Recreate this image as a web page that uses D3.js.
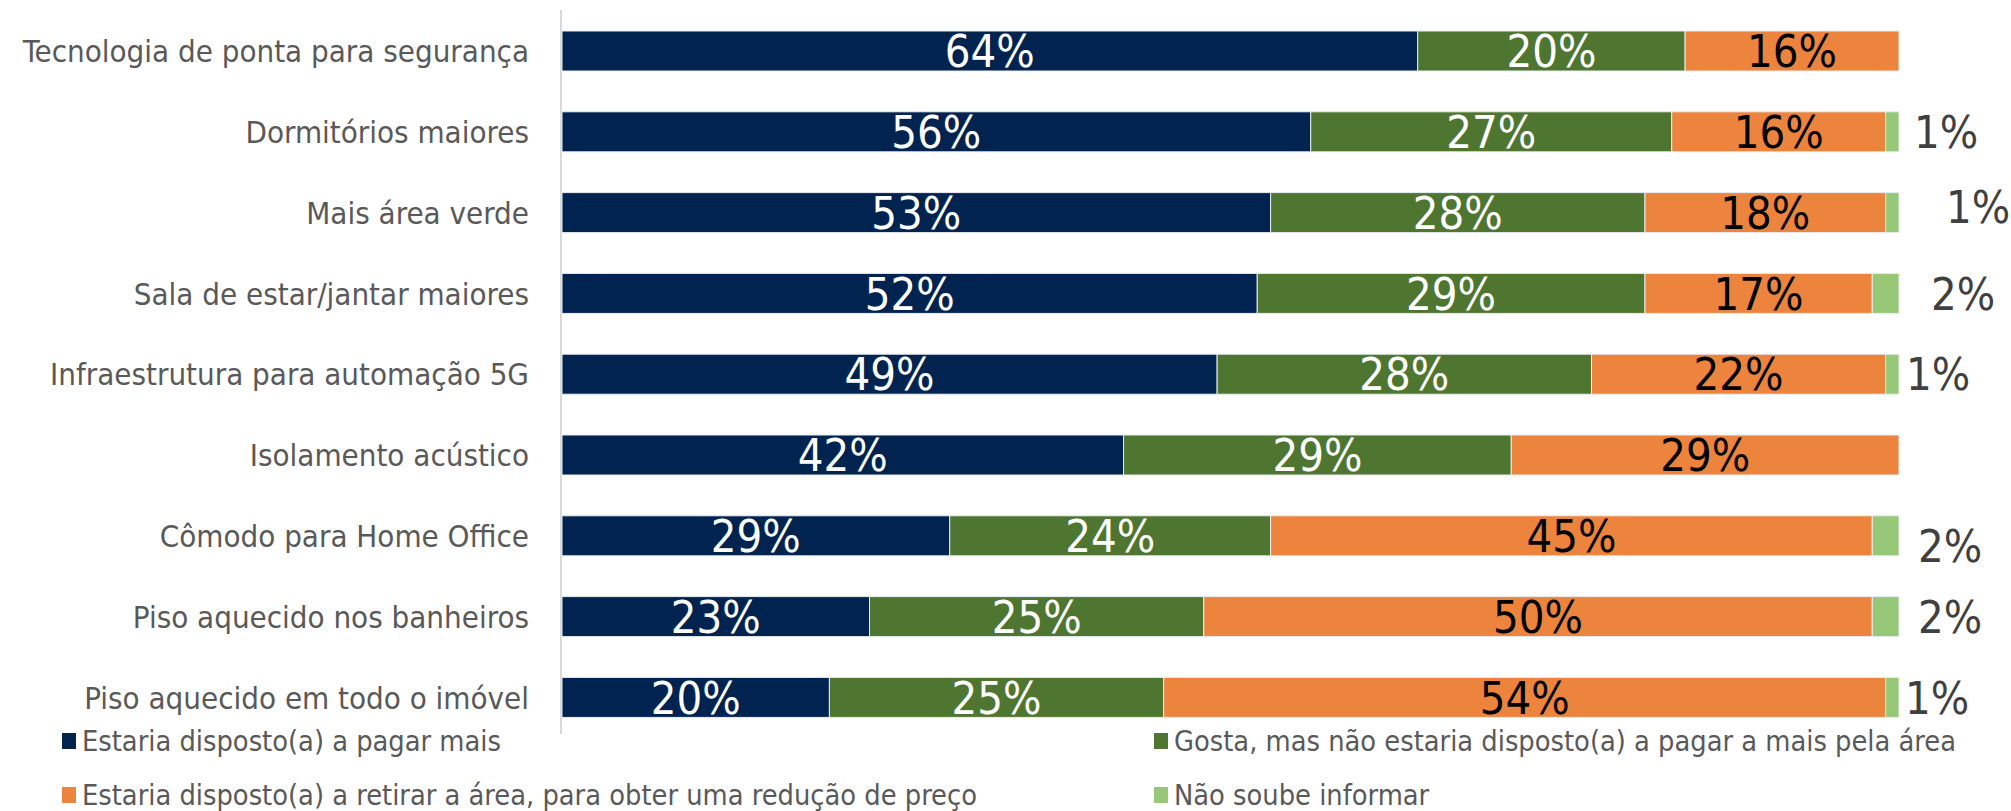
<!DOCTYPE html>
<html>
<head>
<meta charset="utf-8">
<script src="https://cdn.jsdelivr.net/npm/d3@7"></script>
<style>
  body { margin: 0; background: #fff; }
  text { font-family: "DejaVu Sans Condensed", "DejaVu Sans", sans-serif; font-stretch: condensed; }
</style>
</head>
<body>
<div id="chart"></div>
<script>
var categories = [
  "Tecnologia de ponta para segurança",
  "Dormitórios maiores",
  "Mais área verde",
  "Sala de estar/jantar maiores",
  "Infraestrutura para automação 5G",
  "Isolamento acústico",
  "Cômodo para Home Office",
  "Piso aquecido nos banheiros",
  "Piso aquecido em todo o imóvel"
];
var seriesNames = [
  "Estaria disposto(a) a pagar mais",
  "Gosta, mas não estaria disposto(a) a pagar a mais pela área",
  "Estaria disposto(a) a retirar a área, para obter uma redução de preço",
  "Não soube informar"
];
var pagarMais = [64, 56, 53, 52, 49, 42, 29, 23, 20];
var gostaNaoPaga = [20, 27, 28, 29, 28, 29, 24, 25, 25];
var retirarArea = [16, 16, 18, 17, 22, 29, 45, 50, 54];
var naoSoube = [0, 1, 1, 2, 1, 0, 2, 2, 1];

var colors = ["#00234f", "#4e7630", "#ec843e", "#96c878"];
var labelColors = ["#fff", "#fff", "#000", "#404040"];
// hand-placed offsets of the small outside labels (dx, dy)
var outsideOffset = [[0,0],[12,0],[44,-6],[29,0],[4,0],[0,0],[16,10],[16,0],[3,0]];

var width = 2011, height = 811;
var svg = d3.select("#chart").append("svg")
  .attr("width", width)
  .attr("height", height);

var x = d3.scaleLinear()
  .domain([0, 100])
  .range([562, 1899]);
var y = d3.scaleBand()
  .domain(categories)
  .range([10.6, 737.8])
  .paddingInner(0.505)
  .paddingOuter(0.2525);

var rows = categories.map(function (c, i) {
  return { cat: c, v: [pagarMais[i], gostaNaoPaga[i], retirarArea[i], naoSoube[i]] };
});
var stacked = d3.stack().keys([0, 1, 2, 3]).value(function (d, k) { return d.v[k]; })(rows);

// axis line
svg.append("line")
  .attr("x1", 561).attr("x2", 561)
  .attr("y1", 10).attr("y2", 734)
  .attr("stroke", "#d9d9d9").attr("stroke-width", 2);

var layers = svg.selectAll(".layer")
  .data(stacked)
  .enter().append("g")
  .attr("class", "layer")
  .attr("fill", function (d, i) { return colors[i]; });

layers.selectAll("rect")
  .data(function (d) { return d; })
  .enter().append("rect")
  .filter(function (d) { return d[1] - d[0] > 0; })
  .attr("x", function (d) { return x(d[0]); })
  .attr("width", function (d) { return x(d[1]) - x(d[0]); })
  .attr("y", function (d) { return y(d.data.cat); })
  .attr("height", y.bandwidth())
  .attr("stroke", "#e8ecef")
  .attr("stroke-width", 1);

// value labels
stacked.forEach(function (layer, k) {
  layer.forEach(function (d, i) {
    var val = d[1] - d[0];
    if (val <= 0) return;
    var cx, anchor, dy = 0;
    if (k === 3) {
      cx = x(100) + 3 + outsideOffset[i][0];
      dy = outsideOffset[i][1];
      anchor = "start";
    } else {
      cx = (x(d[0]) + x(d[1])) / 2;
      anchor = "middle";
    }
    svg.append("text")
      .attr("x", cx)
      .attr("y", y(d.data.cat) + y.bandwidth() / 2 + dy)
      .attr("dy", "0.36em")
      .attr("text-anchor", anchor)
      .attr("fill", labelColors[k])
      .style("font-size", "45px")
      .text(val + "%");
  });
});

// category labels
svg.selectAll(".cat")
  .data(categories)
  .enter().append("text")
  .attr("class", "cat")
  .attr("x", 529)
  .attr("y", function (d) { return y(d) + y.bandwidth() / 2; })
  .attr("dy", "0.36em")
  .attr("text-anchor", "end")
  .attr("fill", "#595959")
  .style("font-size", "31px")
  .text(function (d) { return d; });

// legend
var legendPos = [[62, 741], [1154, 741], [62, 795], [1154, 795]];
var legend = svg.selectAll(".legend")
  .data(seriesNames)
  .enter().append("g")
  .attr("class", "legend")
  .attr("transform", function (d, i) { return "translate(" + legendPos[i][0] + "," + legendPos[i][1] + ")"; });
legend.append("rect")
  .attr("x", 0).attr("y", -8)
  .attr("width", 14).attr("height", 16)
  .attr("fill", function (d, i) { return colors[i]; });
legend.append("text")
  .attr("x", 20)
  .attr("y", 0)
  .attr("dy", "0.36em")
  .attr("fill", "#595959")
  .style("font-size", "28.7px")
  .text(function (d) { return d; });
</script>
</body>
</html>
